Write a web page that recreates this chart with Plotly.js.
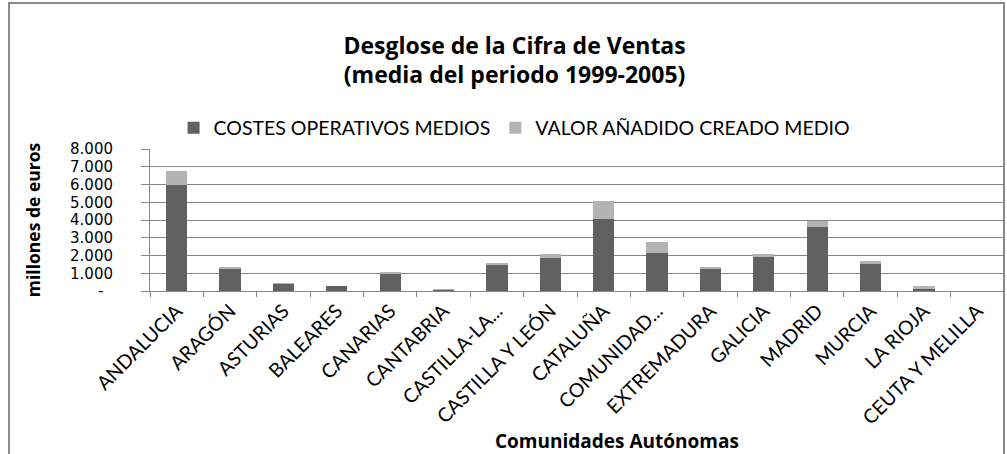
<!DOCTYPE html>
<html>
<head>
<meta charset="utf-8">
<script src="https://cdn.plot.ly/plotly-3.0.1.min.js"></script>
<style>
  html, body { margin: 0; padding: 0; background: #fff; }
  #wrap { position: relative; width: 1007px; height: 454px; overflow: hidden; }
  #chart { position: absolute; left: 0; top: 0; width: 1007px; height: 454px; }
  #frame { position: absolute; left: 8px; top: 2px; width: 993px; height: 470px; border: 2px solid #8a8a8a; pointer-events: none; }
</style>
</head>
<body>
<div id="wrap">
  <div id="chart"></div>
  <div id="frame"></div>
</div>
<script>
// ---- data ----
const categories = ["ANDALUCIA", "ARAGÓN", "ASTURIAS", "BALEARES", "CANARIAS", "CANTABRIA",
  "CASTILLA-LA...", "CASTILLA Y LEÓN", "CATALUÑA", "COMUNIDAD...", "EXTREMADURA",
  "GALICIA", "MADRID", "MURCIA", "LA RIOJA", "CEUTA Y MELILLA"];
const costesOperativos = [5970, 1220, 375, 260, 955, 40, 1440, 1835, 4065, 2150, 1220, 1890, 3630, 1500, 130, 0];
const valorAnadido     = [790, 150, 95, 40, 130, 90, 150, 265, 1010, 620, 150, 210, 300, 200, 130, 0];
const yTickVals = [0, 1000, 2000, 3000, 4000, 5000, 6000, 7000, 8000];
const yTickText = ["-\u00a0\u00a0", "1.000", "2.000", "3.000", "4.000", "5.000", "6.000", "7.000", "8.000"];
const seriesNames = ["COSTES OPERATIVOS MEDIOS", "VALOR AÑADIDO CREADO MEDIO"];
const chartTitle = "Desglose de la Cifra de Ventas<br>(media del periodo 1999-2005)";
const xTitle = "Comunidades Autónomas";
const yTitle = "millones de euros";

const LATO = "Lato, 'Open Sans', sans-serif";
const OPEN = "'Open Sans', Lato, sans-serif";
const DEJA = "'DejaVu Sans', sans-serif";

const traces = [
  { type: "bar", x: categories, y: costesOperativos, name: seriesNames[0],
    marker: { color: "#616161", line: { width: 0 } }, hoverinfo: "x+y" },
  { type: "bar", x: categories, y: valorAnadido, name: seriesNames[1],
    marker: { color: "#b3b3b3", line: { width: 0 } }, hoverinfo: "x+y" }
];

const layout = {
  width: 1007, height: 454,
  margin: { l: 150, r: 3, t: 149, b: 163, pad: 0 },
  paper_bgcolor: "#fff", plot_bgcolor: "#fff",
  barmode: "stack", bargap: 0.6,
  font: { family: LATO, color: "#000" },
  title: {
    text: chartTitle,
    font: { family: OPEN, size: 23, color: "#000", weight: "bold" },
    xref: "container", x: 0.511, xanchor: "center",
    yref: "container", y: 0.882, yanchor: "middle"
  },
  showlegend: true,
  legend: {
    orientation: "h", xref: "container", yref: "container",
    x: 0.511, xanchor: "center", y: 0.718, yanchor: "middle",
    font: { family: LATO, size: 19.5, color: "#000" },
    traceorder: "normal", itemwidth: 30, bgcolor: "rgba(0,0,0,0)"
  },
  xaxis: {
    type: "category", tickangle: -45,
    tickfont: { family: LATO, size: 19.5, color: "#000" },
    showline: true, linecolor: "#868686", linewidth: 1,
    ticks: "outside", tickson: "boundaries", ticklen: 5, tickcolor: "#868686",
    showgrid: false, automargin: false
  },
  yaxis: {
    range: [0, 8000], tickvals: yTickVals, ticktext: yTickText,
    tickfont: { family: DEJA, size: 15, color: "#000" },
    showline: true, linecolor: "#868686", linewidth: 1,
    ticks: "outside", ticklen: 8, tickcolor: "#868686",
    ticklabelstandoff: 25,
    showgrid: true, gridcolor: "#868686", gridwidth: 1, zeroline: false,
    automargin: false,
    title: { text: "<b>" + yTitle + "</b>", font: { family: OPEN, size: 17.5, color: "#000" }, standoff: 24 }
  },
  annotations: [
    { text: "<b>" + xTitle + "</b>", xref: "paper", yref: "paper",
      x: 0.547, y: -1.056, xanchor: "center", yanchor: "middle", showarrow: false,
      font: { family: OPEN, size: 19, color: "#000" } }
  ]
};

Plotly.newPlot("chart", traces, layout, { displayModeBar: false, staticPlot: true });
</script>
</body>
</html>
